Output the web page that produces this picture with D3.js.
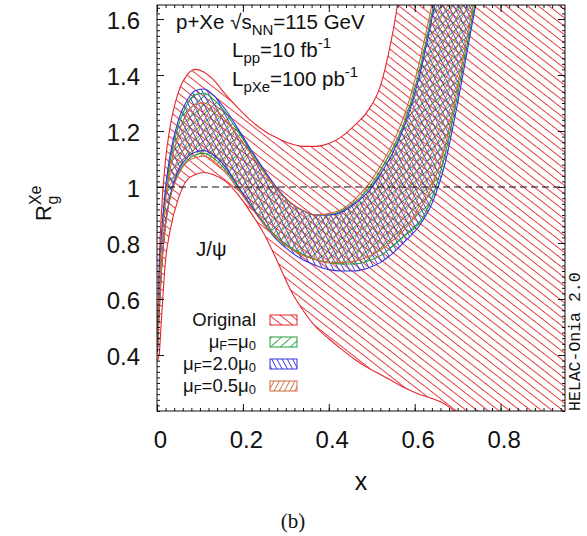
<!DOCTYPE html>
<html>
<head>
<meta charset="utf-8">
<script src="https://cdn.jsdelivr.net/npm/d3@7"></script>
<style>
  html, body { margin: 0; padding: 0; background: #fff; }
  svg text { font-family: "Liberation Sans", Arial, Helvetica, sans-serif; fill: #111; }
</style>
</head>
<body>
<svg id="chart" width="587" height="536"></svg>
<script>
// Momentum fraction grid
const xGrid = [0.001,0.005,0.01,0.02,0.03, 0.05,0.07,0.09,0.11,0.13, 0.16,0.19,0.22,0.25,0.28,
  0.31,0.34,0.37,0.40,0.43, 0.46,0.49,0.52,0.55,0.58, 0.61,0.64,0.67,0.70,0.73, 0.76,0.80,0.85,0.90,0.95];

// Original nPDF uncertainty band (upper / lower edge)
const origHi = [0.42,0.72,0.90,1.10,1.21, 1.34,1.40,1.42,1.41,1.385, 1.33,1.28,1.235,1.20,1.175,
  1.155,1.145,1.145,1.155,1.18, 1.22,1.27,1.36,1.56,1.85, 2.1,2.3,2.5,2.7,2.9, 3.1,3.3,3.5,3.7,3.9];
const origLo = [0.38,0.40,0.52,0.74,0.84, 0.96,1.025,1.045,1.052,1.045, 1.02,0.97,0.905,0.83,0.735,
  0.635,0.56,0.50,0.458,0.42, 0.385,0.355,0.33,0.305,0.28, 0.26,0.245,0.225,0.19,0.15, 0.10,0.05,-0.05,-0.15,-0.25];

// Reweighted bands for three factorisation scales
const muHi = [0.45,0.66,0.80,0.98,1.09, 1.22,1.295,1.33,1.335,1.315, 1.265,1.195,1.125,1.055,0.99,
  0.945,0.915,0.90,0.90,0.915, 0.945,0.99,1.06,1.14,1.25, 1.41,1.62,1.85,2.1,2.3, 2.5];
const muLo = [0.42,0.56,0.70,0.87,0.96, 1.05,1.095,1.115,1.12,1.105, 1.06,0.995,0.93,0.87,0.82,
  0.785,0.76,0.74,0.73,0.725, 0.725,0.735,0.755,0.79,0.83, 0.87,0.96,1.11,1.33,1.57, 1.82];
const mu2Hi = [0.46,0.68,0.82,1.00,1.11, 1.24,1.31,1.345,1.35,1.33, 1.275,1.205,1.13,1.06,0.995,
  0.945,0.915,0.90,0.90,0.91, 0.94,0.98,1.045,1.125,1.235, 1.39,1.60,1.83,2.08,2.3, 2.5];
const mu2Lo = [0.41,0.55,0.69,0.87,0.965, 1.06,1.105,1.125,1.13,1.115, 1.07,1.0,0.93,0.865,0.81,
  0.77,0.74,0.72,0.705,0.70, 0.70,0.71,0.73,0.765,0.81, 0.86,0.94,1.08,1.30,1.55, 1.80];
const mu05Hi = [0.44,0.64,0.78,0.95,1.06, 1.19,1.265,1.295,1.30,1.285, 1.24,1.18,1.115,1.05,0.99,
  0.945,0.915,0.90,0.905,0.92, 0.955,1.005,1.075,1.16,1.275, 1.44,1.65,1.88,2.1,2.3, 2.5];
const mu05Lo = [0.42,0.56,0.70,0.865,0.955, 1.045,1.09,1.105,1.11,1.095, 1.05,0.99,0.925,0.865,0.815,
  0.78,0.755,0.74,0.73,0.73, 0.735,0.75,0.775,0.81,0.855, 0.915,1.0,1.14,1.36,1.60, 1.85];

const xTicks = [0, 0.2, 0.4, 0.6, 0.8];
const xTickLabels = ["0", "0.2", "0.4", "0.6", "0.8"];
const yTicks = [0.4, 0.6, 0.8, 1.0, 1.2, 1.4, 1.6];
const yTickLabels = ["0.4", "0.6", "0.8", "1", "1.2", "1.4", "1.6"];

const svg = d3.select("#chart");
const L = 157, R = 565, T = 5, B = 411;
const x = d3.scaleLinear().domain([0, 0.95]).range([L, R]);
const y = d3.scaleLinear().domain([0.2, 1.65]).range([B, T]);

const colors = { orig: "#e4262e", mu: "#22a03a", mu2: "#3434e0", mu05: "#cf6a3a" };

// hatch patterns
const defs = svg.append("defs");
function hatch(id, color, angle, gap, sw) {
  const p = defs.append("pattern").attr("id", id)
    .attr("patternUnits", "userSpaceOnUse")
    .attr("width", 10).attr("height", gap)
    .attr("patternTransform", `rotate(${angle})`);
  p.append("line").attr("x1", -1).attr("x2", 11)
    .attr("y1", gap / 2).attr("y2", gap / 2)
    .attr("stroke", color).attr("stroke-width", sw);
}
hatch("h-orig", colors.orig, 38, 6.6, 0.9);
hatch("h-mu", colors.mu, -42, 6.6, 0.9);
hatch("h-mu2", colors.mu2, 62, 4.6, 0.9);
hatch("h-mu05", colors.mu05, -62, 4.6, 0.9);

defs.append("clipPath").attr("id", "plotclip")
  .append("rect").attr("x", L).attr("y", T).attr("width", R - L).attr("height", B - T);

const plot = svg.append("g").attr("clip-path", "url(#plotclip)");

function band(hi, lo, key) {
  const pts = hi.map((v, i) => ({ x: xGrid[i], hi: v, lo: lo[i] }));
  const area = d3.area().curve(d3.curveMonotoneX)
    .x(d => x(d.x)).y0(d => y(d.lo)).y1(d => y(d.hi));
  plot.append("path").datum(pts).attr("d", area)
    .attr("fill", `url(#h-${key})`).attr("stroke", "none");
  return pts;
}
function edges(pts, key) {
  const line = d3.line().curve(d3.curveMonotoneX).x(d => x(d.x));
  plot.append("path").datum(pts).attr("d", line.y(d => y(d.hi)))
    .attr("fill", "none").attr("stroke", colors[key]).attr("stroke-width", 1.1);
  plot.append("path").datum(pts).attr("d", line.y(d => y(d.lo)))
    .attr("fill", "none").attr("stroke", colors[key]).attr("stroke-width", 1.1);
}

const pOrig = band(origHi, origLo, "orig");
const pMu = band(muHi, muLo, "mu");
const pMu2 = band(mu2Hi, mu2Lo, "mu2");
const pMu05 = band(mu05Hi, mu05Lo, "mu05");
edges(pOrig, "orig");
edges(pMu, "mu");
edges(pMu2, "mu2");
edges(pMu05, "mu05");

// reference line at R = 1
plot.append("line").attr("x1", L).attr("x2", R).attr("y1", y(1)).attr("y2", y(1))
  .attr("stroke", "#111").attr("stroke-width", 1).attr("stroke-dasharray", "7,4");

// axes with inward ticks on all four sides
const xMinor = d3.range(0, 0.951, 0.02);
const yMinor = d3.range(0.2, 1.651, 0.02);
function styleAxis(g) { g.select(".domain").remove(); g.selectAll("line").attr("stroke", "#111"); }

svg.append("g").attr("transform", `translate(0,${B})`)
  .call(d3.axisBottom(x).tickValues(xMinor).tickSize(-3).tickFormat("")).call(styleAxis);
svg.append("g").attr("transform", `translate(0,${T})`)
  .call(d3.axisTop(x).tickValues(xMinor).tickSize(-3).tickFormat("")).call(styleAxis);
svg.append("g").attr("transform", `translate(${L},0)`)
  .call(d3.axisLeft(y).tickValues(yMinor).tickSize(-3).tickFormat("")).call(styleAxis);
svg.append("g").attr("transform", `translate(${R},0)`)
  .call(d3.axisRight(y).tickValues(yMinor).tickSize(-3).tickFormat("")).call(styleAxis);

const xb = svg.append("g").attr("transform", `translate(0,${B})`)
  .call(d3.axisBottom(x).tickValues(xTicks).tickSize(-7).tickPadding(20)
    .tickFormat((d, i) => xTickLabels[i])).call(styleAxis);
xb.selectAll("text").attr("font-size", 24).attr("dx", 3)
  .style("font-family", "Liberation Sans, Arial, sans-serif").attr("fill", "#111");
svg.append("g").attr("transform", `translate(0,${T})`)
  .call(d3.axisTop(x).tickValues(xTicks).tickSize(-7).tickFormat("")).call(styleAxis);

const yl = svg.append("g").attr("transform", `translate(${L},0)`)
  .call(d3.axisLeft(y).tickValues(yTicks).tickSize(-7).tickPadding(17)
    .tickFormat((d, i) => yTickLabels[i])).call(styleAxis);
yl.selectAll("text").attr("font-size", 24).attr("dy", "0.38em")
  .style("font-family", "Liberation Sans, Arial, sans-serif").attr("fill", "#111");
svg.append("g").attr("transform", `translate(${R},0)`)
  .call(d3.axisRight(y).tickValues(yTicks).tickSize(-7).tickFormat("")).call(styleAxis);

// frame
svg.append("rect").attr("x", L).attr("y", T).attr("width", R - L).attr("height", B - T)
  .attr("fill", "none").attr("stroke", "#111").attr("stroke-width", 1);

// annotations
const t1 = svg.append("text").attr("x", 176).attr("y", 29).attr("font-size", 20.5);
t1.append("tspan").text("p+Xe \u221As");
t1.append("tspan").attr("font-size", 15).attr("dy", 6).text("NN");
t1.append("tspan").attr("dy", -6).text("=115 GeV");

const t2 = svg.append("text").attr("x", 232).attr("y", 57).attr("font-size", 20.5);
t2.append("tspan").text("L");
t2.append("tspan").attr("font-size", 15).attr("dy", 6).text("pp");
t2.append("tspan").attr("dy", -6).text("=10 fb");
t2.append("tspan").attr("font-size", 15).attr("dy", -9).text("-1");

const t3 = svg.append("text").attr("x", 232).attr("y", 86).attr("font-size", 20.5);
t3.append("tspan").text("L");
t3.append("tspan").attr("font-size", 15).attr("dy", 6).text("pXe");
t3.append("tspan").attr("dy", -6).text("=100 pb");
t3.append("tspan").attr("font-size", 15).attr("dy", -9).text("-1");

svg.append("text").attr("x", 196).attr("y", 256).attr("font-size", 20.5).text("J/\u03C8");

// legend
const legendRows = [
  { key: "orig", parts: [["Original", 0]] },
  { key: "mu", parts: [["\u03BC", 0], ["F", 1], ["=\u03BC", 0], ["0", 1]] },
  { key: "mu2", parts: [["\u03BC", 0], ["F", 1], ["=2.0\u03BC", 0], ["0", 1]] },
  { key: "mu05", parts: [["\u03BC", 0], ["F", 1], ["=0.5\u03BC", 0], ["0", 1]] }
];
legendRows.forEach((row, i) => {
  const base = 326 + i * 22;
  const t = svg.append("text").attr("x", 256).attr("y", base)
    .attr("font-size", 18.5).attr("text-anchor", "end");
  let shift = 0;
  row.parts.forEach(([s, sub]) => {
    const target = sub ? 2 : 0;
    t.append("tspan").attr("dy", target - shift).attr("font-size", sub ? 13 : 18.5).text(s);
    shift = target;
  });
  svg.append("rect").attr("x", 270).attr("y", base - 11).attr("width", 27).attr("height", 10)
    .attr("fill", `url(#h-${row.key})`).attr("stroke", colors[row.key]).attr("stroke-width", 1);
});

// y axis title R_g^Xe
const yt = svg.append("text").attr("transform", "translate(51,221) rotate(-90)").attr("font-size", 22);
yt.append("tspan").text("R");
yt.append("tspan").attr("font-size", 16).attr("dy", -10).text("Xe");
yt.append("tspan").attr("font-size", 16).attr("dx", -19).attr("dy", 17).text("g");

// x axis title
svg.append("text").attr("x", 361).attr("y", 490).attr("font-size", 25)
  .attr("text-anchor", "middle").text("x");

// panel caption
svg.append("text").attr("x", 293).attr("y", 528).attr("font-size", 21)
  .attr("text-anchor", "middle").style("font-family", "Liberation Serif, 'Times New Roman', serif")
  .text("(b)");

// generator tag
svg.append("text").attr("transform", "translate(580,411) rotate(-90)")
  .attr("font-size", 16.5).style("font-family", "Liberation Mono, 'Courier New', monospace")
  .text("HELAC-Onia 2.0");
</script>
</body>
</html>
